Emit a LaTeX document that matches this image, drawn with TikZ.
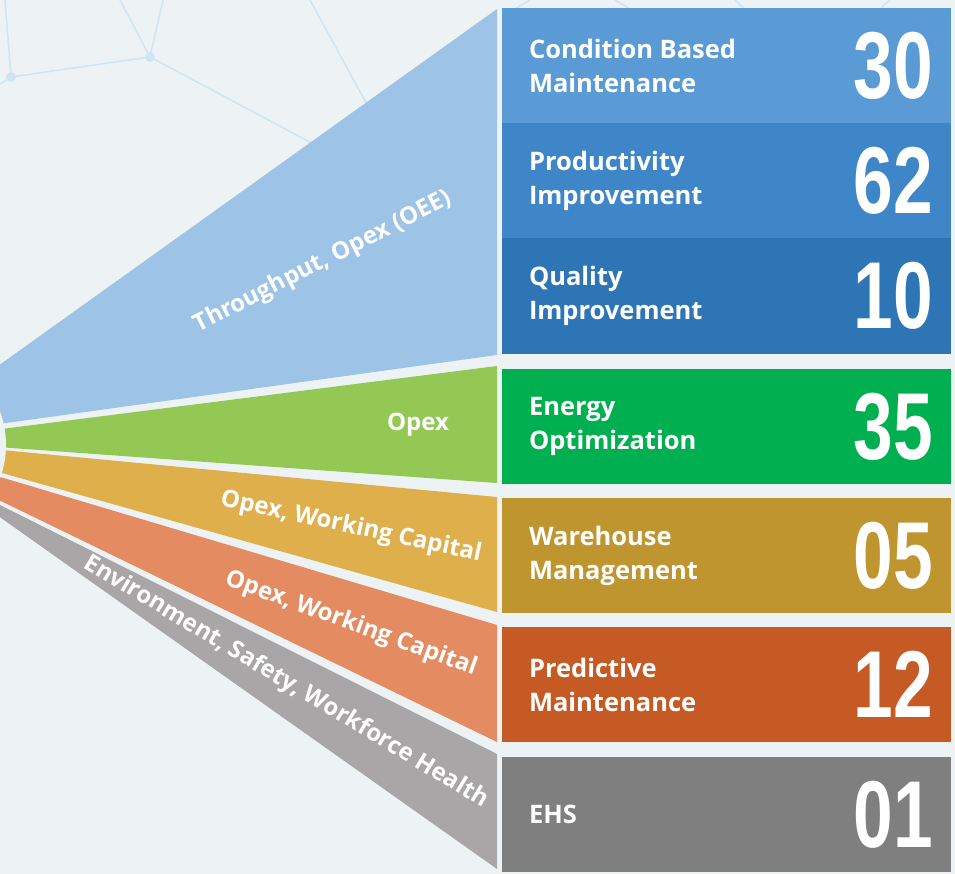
\documentclass[tikz,border=0pt]{standalone}
\usepackage{fontspec}
\usepackage{graphicx}
\setmainfont{Open Sans}
\newfontfamily\numfont{Liberation Sans}
\usetikzlibrary{positioning}
\definecolor{bgcol}{HTML}{EDF2F5}
\definecolor{netcol}{HTML}{CFE5F2}
\definecolor{fanblue}{HTML}{9DC3E6}
\definecolor{fangreen}{HTML}{92C853}
\definecolor{fanyellow}{HTML}{DEAF4B}
\definecolor{fanorange}{HTML}{E48B62}
\definecolor{fangray}{HTML}{A8A6A7}
\definecolor{cbmblue}{HTML}{5B9BD5}
\definecolor{prodblue}{HTML}{3F86C8}
\definecolor{qualblue}{HTML}{2E75B6}
\definecolor{energygreen}{HTML}{00B050}
\definecolor{warebrown}{HTML}{BF9530}
\definecolor{predorange}{HTML}{C55A24}
\definecolor{ehsgray}{HTML}{7F7F7F}
\tikzset{
  box/.style={fill=#1, minimum width=449pt, minimum height=115pt, inner sep=0pt},
  boxlabel/.style={text=white, font=\bfseries\fontsize{25.5}{34}\selectfont, align=left, anchor=west, inner sep=0pt},
  boxnum/.style={text=white, anchor=east, inner sep=0pt},
  fanlabel/.style={text=white, font=\bfseries\fontsize{24}{24}\selectfont, inner sep=0pt},
  net/.style={draw=netcol, line width=1.5pt},
}
\newcommand{\bignum}[1]{\scalebox{0.75}[1]{\numfont\bfseries\fontsize{95}{95}\selectfont #1}}

\begin{document}
\begin{tikzpicture}[x=1pt, y=-1pt]
  \useasboundingbox (0,0) rectangle (955,874);
  \fill[bgcol] (0,0) rectangle (955,874);
  \draw[net] (0,84)--(11,77)--(150,57)--(163,0);
  \draw[net] (5,0)--(11,77); \draw[net] (120,0)--(150,57)--(400,190);
  \draw[net] (310,0)--(400,165);
  \draw[net] (515,9)--(530,0); \draw[net] (615,0)--(630,9);
  \draw[net] (735,0)--(745,9); \draw[net] (880,9)--(890,0);
  \fill[netcol] (11,77) circle (5pt) (150,57) circle (5pt);
  \fill[fanblue] (-30,386)--(497,9)--(497,355)--(-30,428)--cycle;
  \fill[fangreen] (-30,433)--(497,366)--(497,483)--(-30,445)--cycle;
  \fill[fanyellow] (-30,447)--(497,497)--(497,612)--(-30,464)--cycle;
  \fill[fanorange] (-30,468)--(497,625)--(497,742)--(-30,486)--cycle;
  \fill[fangray] (-30,490)--(497,754)--(497,869)--(-30,496)--cycle;
  \fill[bgcol] (-90,445) circle (96pt);
  \node[fanlabel, rotate=27] (thru) at (323,262) {Throughput, Opex (OEE)};
  \node[fanlabel] (opex) at (418,425) {Opex};
  \node[fanlabel, rotate=-12] (wcapa) at (351,527) {Opex, Working Capital};
  \node[fanlabel, rotate=-20] (wcapb) at (351,624) {Opex, Working Capital};
  \node[fanlabel, rotate=-31] (ehsl) at (286,682) {Environment, Safety, Workforce Health};
  \node[box=cbmblue] (cbm) at (726.5,66) {};
  \node[box=prodblue] (prod) at (726.5,180.5) {};
  \node[box=qualblue] (qual) at (726.5,296) {};
  \node[box=energygreen] (energy) at (726.5,426.5) {};
  \node[box=warebrown] (ware) at (726.5,555.5) {};
  \node[box=predorange] (pred) at (726.5,684.5) {};
  \node[box=ehsgray] (ehs) at (726.5,814.5) {};
  \node[boxlabel, right=27pt of cbm.west] (cbmt) {Condition Based\\Maintenance};
  \node[boxlabel, right=27pt of prod.west] (prodt) {Productivity\\Improvement};
  \node[boxlabel, right=27pt of qual.west] (qualt) {Quality\\Improvement};
  \node[boxlabel, right=27pt of energy.west] (energyt) {Energy\\Optimization};
  \node[boxlabel, right=27pt of ware.west] (waret) {Warehouse\\Management};
  \node[boxlabel, right=27pt of pred.west] (predt) {Predictive\\Maintenance};
  \node[boxlabel, right=27pt of ehs.west] (ehst) {EHS};
  \node[boxnum, left=18pt of cbm.east] (cbmn) {\bignum{30}};
  \node[boxnum, left=18pt of prod.east] (prodn) {\bignum{62}};
  \node[boxnum, left=18pt of qual.east] (qualn) {\bignum{10}};
  \node[boxnum, left=18pt of energy.east] (energyn) {\bignum{35}};
  \node[boxnum, left=18pt of ware.east] (waren) {\bignum{05}};
  \node[boxnum, left=18pt of pred.east] (predn) {\bignum{12}};
  \node[boxnum, left=18pt of ehs.east] (ehsn) {\bignum{01}};
\end{tikzpicture}
\end{document}
